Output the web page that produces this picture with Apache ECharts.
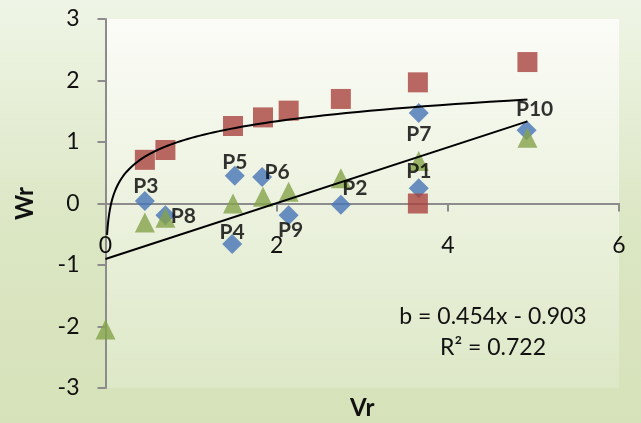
<!DOCTYPE html>
<html>
<head>
<meta charset="utf-8">
<script src="https://cdn.jsdelivr.net/npm/echarts@6/dist/echarts.min.js"></script>
<style>
html,body{margin:0;padding:0;}
#chart{width:641px;height:423px;}
</style>
</head>
<body>
<div id="chart"></div>
<script>
// Blue diamonds (labelled points)
const pointNames = ['P1','P2','P3','P4','P5','P6','P7','P8','P9','P10'];
const vrBlue = [3.66, 2.75, 0.46, 1.48, 1.51, 1.83, 3.66, 0.70, 2.14, 4.92];
const wrBlue = [0.25, -0.02, 0.04, -0.66, 0.45, 0.43, 1.47, -0.19, -0.19, 1.19];
// Red squares
const vrRed = [0.46, 0.70, 1.49, 1.84, 2.14, 2.75, 3.65, 3.65, 4.93];
const wrRed = [0.71, 0.87, 1.26, 1.40, 1.51, 1.70, 1.97, 0.00, 2.30];
// Green triangles
const vrGreen = [0.00, 0.46, 0.70, 1.49, 1.84, 2.14, 2.75, 3.66, 4.93];
const wrGreen = [-2.05, -0.31, -0.23, 0.00, 0.11, 0.19, 0.41, 0.69, 1.07];
// Trendlines: linear (green) y = m x + c ; logarithmic (red) y = a ln(x) + b
const linearCoef = [0.454, -0.903];
const linearRange = [0, 4.93];
const logCoef = [0.392, 1.065];
const logRange = [0.018, 4.93];
// Axis ticks
const xTicks = [0, 2, 4, 6];
const yTicks = [-3, -2, -1, 0, 1, 2, 3];
const equationText = ['b = 0.454x - 0.903', 'R\u00b2 = 0.722'];

// label placement for each labelled point (offset from marker centre)
const labelOffsets = {
  P1:[0,-17], P2:[14,-16], P3:[1,-15], P4:[0,-12], P5:[0,-14],
  P6:[15,-5], P7:[0,21], P8:[18,1], P9:[2,15], P10:[8,-21]
};

const FONT = 'Lato, "Open Sans", sans-serif';

const blueData = vrBlue.map((x, i) => ({
  value: [x, wrBlue[i]],
  name: pointNames[i],
  label: { offset: labelOffsets[pointNames[i]] }
}));
const redData = vrRed.map((x, i) => [x, wrRed[i]]);
const greenData = vrGreen.map((x, i) => [x, wrGreen[i]]);

const linData = linearRange.map(x => [x, linearCoef[0] * x + linearCoef[1]]);
const logData = [];
const nSteps = 120;
for (let k = 0; k <= nSteps; k++) {
  const x = logRange[0] * Math.pow(logRange[1] / logRange[0], k / nSteps);
  logData.push([x, logCoef[0] * Math.log(x) + logCoef[1]]);
}

const GRID = {left: 105.5, right: 22, top: 19, bottom: 35};
const plotH = 423 - GRID.top - GRID.bottom;
// distance of the zero line from the bottom of the plot (x axis crosses at Wr = 0)
const zeroFromBottom = plotH * (0 - yTicks[0]) / (yTicks[yTicks.length - 1] - yTicks[0]);

const chart = echarts.init(document.getElementById('chart'), null, {renderer: 'canvas'});
chart.setOption({
  animation: false,
  backgroundColor: {
    type: 'linear', x: 0, y: 0, x2: 0, y2: 1,
    colorStops: [
      {offset: 0, color: '#eff5e6'},
      {offset: 0.55, color: '#dbe6c3'},
      {offset: 1, color: '#d6e2b9'}
    ]
  },
  grid: {
    left: GRID.left, right: GRID.right, top: GRID.top, bottom: GRID.bottom,
    containLabel: false, outerBoundsMode: 'none',
    show: true, borderWidth: 0,
    backgroundColor: {
      type: 'linear', x: 0, y: 0, x2: 0, y2: 1,
      colorStops: [
        {offset: 0, color: '#fbfcf7'},
        {offset: 1, color: '#dde8c7'}
      ]
    }
  },
  xAxis: {
    type: 'value', min: xTicks[0], max: xTicks[xTicks.length - 1], interval: 2,
    position: 'bottom', offset: -zeroFromBottom,
    name: 'Vr', nameLocation: 'middle', nameGap: 193,
    nameTextStyle: {fontFamily: FONT, fontWeight: 'bold', fontSize: 24, color: '#111'},
    axisLine: {onZero: false, lineStyle: {color: '#8c8c8c', width: 2}},
    axisTick: {show: true, length: 8, lineStyle: {color: '#8c8c8c', width: 2}},
    axisLabel: {margin: 31, fontFamily: FONT, fontSize: 23, color: '#111'},
    splitLine: {show: false}
  },
  yAxis: {
    type: 'value', min: yTicks[0], max: yTicks[yTicks.length - 1], interval: 1,
    name: 'Wr', nameLocation: 'middle', nameGap: 68,
    nameTextStyle: {fontFamily: FONT, fontWeight: 'bold', fontSize: 24, color: '#111'},
    axisLine: {show: true, onZero: false, lineStyle: {color: '#8c8c8c', width: 2}},
    axisTick: {show: true, length: 8, lineStyle: {color: '#8c8c8c', width: 2}},
    axisLabel: {margin: 26, fontFamily: FONT, fontSize: 23, color: '#111'},
    splitLine: {show: false}
  },
  graphic: [
    {type: 'text', x: 493, y: 317,
     style: {text: equationText[0], font: '23px ' + FONT, fill: '#111',
       textAlign: 'center', textVerticalAlign: 'middle'}},
    {type: 'text', x: 493, y: 348,
     style: {text: equationText[1], font: '23px ' + FONT, fill: '#111',
       textAlign: 'center', textVerticalAlign: 'middle'}}
  ],
  series: [
    {
      type: 'scatter', name: 'blue', data: blueData, symbol: 'diamond', symbolSize: 20,
      itemStyle: {color: '#4674b7'}, z: 2,
      label: {show: true, position: 'inside', formatter: p => p.name,
        fontFamily: FONT, fontWeight: 'bold', fontSize: 21, color: '#000'}
    },
    {
      type: 'scatter', name: 'red', data: redData, symbol: 'rect', symbolSize: 20,
      itemStyle: {color: '#a9423f'}, z: 2
    },
    {
      type: 'scatter', name: 'green', data: greenData, symbol: 'triangle', symbolSize: 20,
      itemStyle: {color: '#85a34a'}, z: 2
    },
    {
      type: 'line', name: 'lin', data: linData, showSymbol: false, symbol: 'none',
      lineStyle: {color: '#000', width: 2}, z: 3, silent: true
    },
    {
      type: 'line', name: 'log', data: logData, showSymbol: false, symbol: 'none',
      lineStyle: {color: '#000', width: 2}, z: 3, silent: true
    }
  ]
});
</script>
</body>
</html>
